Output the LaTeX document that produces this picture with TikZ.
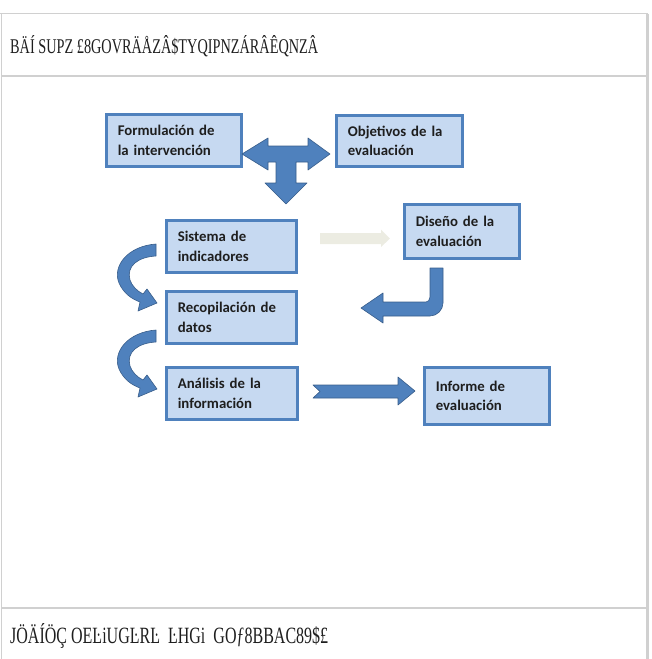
\documentclass[tikz,border=0pt]{standalone}
\usepackage{fontspec}
\setmainfont{Carlito}
\newfontfamily\garble{Liberation Serif}
\usepackage{graphicx}
\definecolor{boxfill}{RGB}{198,217,241}
\definecolor{boxdraw}{RGB}{79,129,189}
\definecolor{arrfill}{RGB}{79,129,189}
\definecolor{arrdraw}{RGB}{56,93,138}
\definecolor{faint}{RGB}{236,236,226}
\definecolor{framec}{RGB}{208,208,208}
\definecolor{txt}{RGB}{30,30,30}
\tikzset{
  box/.style={draw=boxdraw, line width=2.6pt, fill=boxfill, anchor=north west,
    inner xsep=11.5pt, inner ysep=0pt, align=left, text=txt,
    font=\bfseries\fontsize{14.8}{19.5}\selectfont},
  blockarrow/.style={fill=arrfill, draw=arrdraw, line width=0.6pt, line join=round},
  frameline/.style={draw=framec, line width=1.2pt},
  garbletext/.style={anchor=base west, inner sep=0pt, text=txt}
}
\begin{document}
\begin{tikzpicture}[x=1pt,y=-1pt]
\useasboundingbox (0,0) rectangle (651,659);
% frame
\draw[frameline] (0,13.5) -- (648,13.5);
\draw[frameline] (1.5,13.5) -- (1.5,659);
\draw[draw=framec, line width=2.5pt] (647.5,13.5) -- (647.5,659);
\draw[frameline] (1.5,76) -- (648,76);
\draw[frameline] (1.5,608) -- (648,608);
% header / footer (garbled glyphs)
\node[garbletext] (head) at (10,53) {\resizebox{308pt}{18pt}{\garble BÄÍ SUPZ £8GOVRÄÅZÂ\$TYQIPNZÁRÂÊQNZÂ}};
\node[garbletext] (foot) at (10,643) {\resizebox{318pt}{20pt}{\garble JÖÄÍÖÇ OEĿiUGĿRĿ\ \ ĿHGi\ \ GOƒ8BBAC89\$£}};
% boxes
\node[box, minimum height=52pt, text width=112pt] (f) at (105,113) {Formulación de\\la intervención};
\node[box, minimum height=51pt, text width=103pt] (o) at (335,114) {Objetivos de la\\evaluación};
\node[box, minimum height=52pt, text width=107pt] (s) at (165,219) {Sistema de\\indicadores};
\node[box, minimum height=54pt, text width=92pt] (d) at (403,203) {Diseño de la\\evaluación};
\node[box, minimum height=52pt, text width=107pt] (r) at (165,290) {Recopilación de\\datos};
\node[box, minimum height=52pt, text width=108pt] (a) at (165,366) {Análisis de la\\información};
\node[box, minimum height=57pt, text width=102pt] (i) at (423,366) {Informe de\\evaluación};
% T-shaped arrow
\draw[blockarrow] (242,154) -- (268,138) -- (268,146) -- (308,146) -- (308,138) -- (330,154)
  -- (308,170) -- (308,162) -- (296,162) -- (296,183) -- (307,183) -- (286,204)
  -- (265,183) -- (276,183) -- (276,162) -- (268,162) -- (268,170) -- cycle;
% faint arrow
\fill[faint] (320,233) -- (381,233) -- (381,229.5) -- (390,238.5) -- (381,247) -- (381,244) -- (320,244) -- cycle;
% bent arrow from Diseño
\draw[blockarrow] (430,268) -- (443,268) -- (443,303) .. controls (443,310) and (437,316) .. (430,316)
  -- (383,316) -- (383,323) -- (361,308) -- (383,293) -- (383,302) -- (426,302)
  .. controls (428,302) and (430,300) .. (430,297) -- cycle;
% arrow Análisis -> Informe
\draw[blockarrow] (313,385) -- (398,385) -- (398,377) -- (415,391) -- (398,405) -- (398,398) -- (313,398) -- (320,391.5) -- cycle;
% curved arrows
\foreach \dy in {-86,0}{
\begin{scope}[shift={(0,\dy)}]
\draw[blockarrow] (156,330) .. controls (128,332) and (112,352) .. (119,369)
  .. controls (124,380) and (132,385) .. (140,388) -- (138,397) -- (157,389) -- (147,375) -- (143,380)
  .. controls (137,377) and (132,372) .. (130,366) .. controls (126,352) and (138,343) .. (156,342) -- cycle;
\end{scope}}
\end{tikzpicture}
\end{document}
